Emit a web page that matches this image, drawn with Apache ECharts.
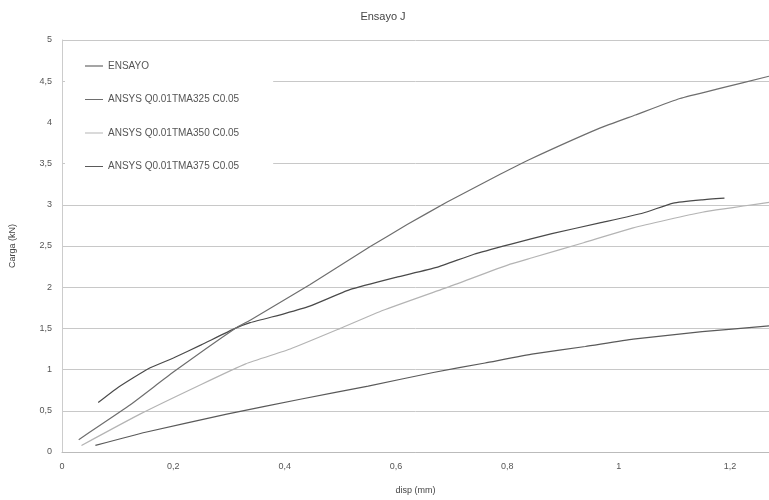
<!DOCTYPE html>
<html><head><meta charset="utf-8">
<script src="https://cdn.jsdelivr.net/npm/echarts@6/dist/echarts.min.js"></script>
<style>html,body{margin:0;padding:0;background:#fff}#c{width:769px;height:500px}</style>
</head><body><div id="c"></div>
<script>
const seriesNames = ["ENSAYO", "ANSYS Q0.01TMA325 C0.05", "ANSYS Q0.01TMA350 C0.05", "ANSYS Q0.01TMA375 C0.05"];
const ensayoX = [0.065, 0.1, 0.155, 0.2, 0.25, 0.311, 0.338, 0.4, 0.445, 0.517, 0.6, 0.673, 0.74, 0.805, 0.88, 0.966, 1.044, 1.098, 1.15, 1.19];
const ensayoY = [0.6, 0.78, 1.01, 1.14, 1.3, 1.5, 1.57, 1.68, 1.77, 1.97, 2.12, 2.24, 2.4, 2.52, 2.65, 2.78, 2.9, 3.02, 3.06, 3.08];
const tma325X = [0.03, 0.12, 0.2, 0.311, 0.338, 0.445, 0.553, 0.62, 0.691, 0.787, 0.84, 0.966, 1.03, 1.11, 1.18, 1.27];
const tma325Y = [0.15, 0.56, 0.97, 1.5, 1.6, 2.03, 2.49, 2.76, 3.03, 3.37, 3.55, 3.93, 4.09, 4.29, 4.41, 4.56];
const tma350X = [0.035, 0.14, 0.25, 0.33, 0.41, 0.5, 0.577, 0.697, 0.805, 0.846, 0.937, 1.026, 1.15, 1.27];
const tma350Y = [0.08, 0.46, 0.82, 1.07, 1.25, 1.5, 1.72, 2.01, 2.28, 2.36, 2.54, 2.72, 2.91, 3.03];
const tma375X = [0.06, 0.15, 0.296, 0.428, 0.55, 0.667, 0.76, 0.847, 0.94, 1.026, 1.15, 1.27];
const tma375Y = [0.08, 0.24, 0.46, 0.64, 0.8, 0.965, 1.08, 1.19, 1.28, 1.37, 1.46, 1.53];
const yTicks = [0, 0.5, 1, 1.5, 2, 2.5, 3, 3.5, 4, 4.5, 5];
const xTicks = [0, 0.2, 0.4, 0.6, 0.8, 1, 1.2];

const zip = (xs, ys) => xs.map((x, i) => [x, ys[i]]);
const colors = ['#4a4a4a', '#6e6e6e', '#b4b4b4', '#5a5a5a'];
const datasets = [zip(ensayoX, ensayoY), zip(tma325X, tma325Y), zip(tma350X, tma350Y), zip(tma375X, tma375Y)];
const fmt = v => String(v).replace('.', ',');
const gridColors = yTicks.map(v => v === 4 ? 'rgba(0,0,0,0)' : '#c8c8c8');

const chart = echarts.init(document.getElementById('c'));
chart.setOption({
  animation: false,
  backgroundColor: '#fff',
  textStyle: { fontFamily: 'Liberation Sans' },
  title: { text: 'Ensayo J', left: 378, top: 6, textAlign: 'center',
    textStyle: { fontSize: 11, fontWeight: 'normal', color: '#444' } },
  legend: {
    orient: 'vertical', left: 65, top: 45,
    padding: [16, 34, 14, 20],
    itemGap: 23.5, itemWidth: 18, itemHeight: 10,
    backgroundColor: '#fff',
    data: seriesNames.map((n, i) => ({ name: n, icon: 'path://M0,4.5 L18,4.5 L18,5.5 L0,5.5 Z', itemStyle: { color: colors[i] } })),
    textStyle: { fontSize: 10, color: '#555' }
  },
  grid: { left: 62, right: 0, top: 40, bottom: 47, containLabel: false },
  xAxis: {
    type: 'value', min: 0, max: 1.27, interval: 0.2,
    name: 'disp (mm)', nameLocation: 'middle', nameGap: 34,
    nameTextStyle: { fontSize: 9, color: '#444' },
    axisLine: { lineStyle: { color: '#bbb' } },
    axisTick: { show: false },
    splitLine: { show: false },
    axisLabel: { fontSize: 9, color: '#555', margin: 10, showMaxLabel: false,
      formatter: v => xTicks.some(t => Math.abs(t - v) < 1e-6) ? fmt(v) : '' }
  },
  yAxis: {
    type: 'value', min: 0, max: 5, interval: 0.5,
    name: 'Carga (kN)', nameLocation: 'middle', nameGap: 45, nameRotate: 90,
    nameTextStyle: { fontSize: 9, color: '#444' },
    axisLine: { show: true, lineStyle: { color: '#ccc' } },
    axisTick: { show: false },
    splitLine: { show: true, lineStyle: { color: gridColors, width: 1 } },
    axisLabel: { fontSize: 9, color: '#555', margin: 10, formatter: v => fmt(v) }
  },
  series: seriesNames.map((n, i) => ({
    name: n, type: 'line', data: datasets[i], showSymbol: false, symbol: 'none',
    smooth: 0.15, lineStyle: { color: colors[i], width: 1.2 }, itemStyle: { color: colors[i] }, z: 3
  }))
});
</script></body></html>
